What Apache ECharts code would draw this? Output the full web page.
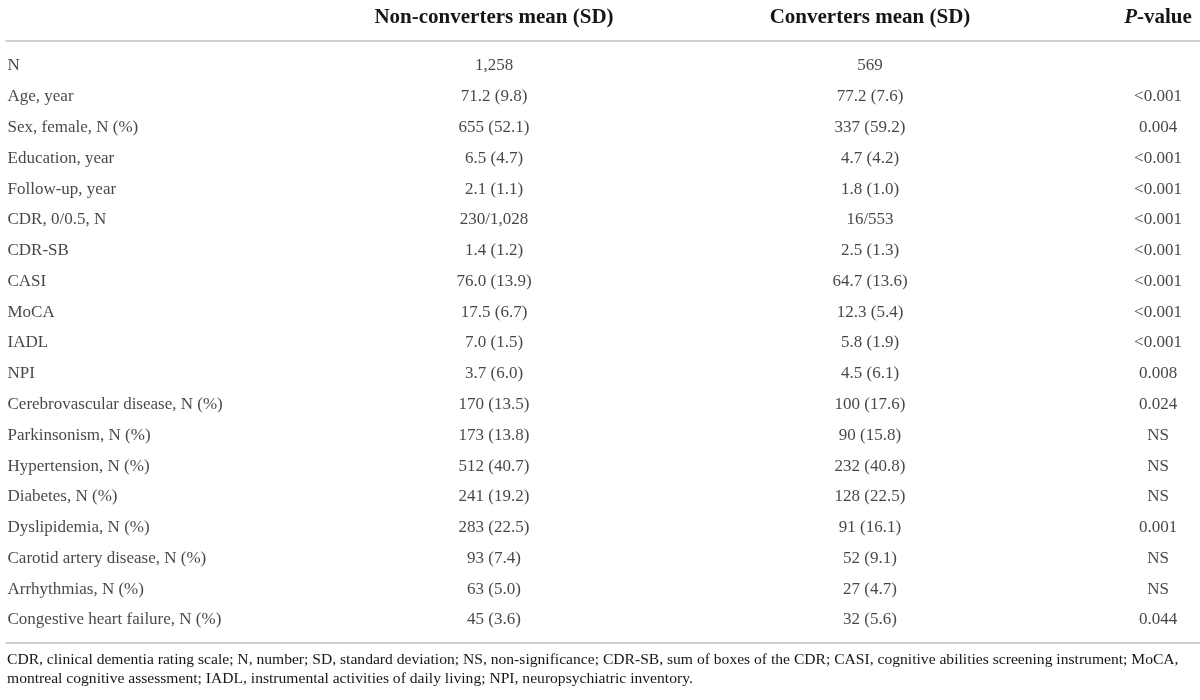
<!DOCTYPE html>
<html style="height: 100%">
<head>
  <meta charset="utf-8">
</head>
<body style="height: 100%; margin: 0; background: #fff">
  <div id="container" style="width: 1200px; height: 700px"></div>
  <script type="text/javascript" src="https://cdn.jsdelivr.net/npm/echarts@6/dist/echarts.min.js"></script>
  <script type="text/javascript">
    var headers = ['', 'Non-converters mean (SD)', 'Converters mean (SD)', 'P-value'];
    var rowLabels = ['N', 'Age, year', 'Sex, female, N (%)', 'Education, year', 'Follow-up, year',
      'CDR, 0/0.5, N', 'CDR-SB', 'CASI', 'MoCA', 'IADL', 'NPI',
      'Cerebrovascular disease, N (%)', 'Parkinsonism, N (%)', 'Hypertension, N (%)',
      'Diabetes, N (%)', 'Dyslipidemia, N (%)', 'Carotid artery disease, N (%)',
      'Arrhythmias, N (%)', 'Congestive heart failure, N (%)'];
    var nonConverters = ['1,258', '71.2 (9.8)', '655 (52.1)', '6.5 (4.7)', '2.1 (1.1)',
      '230/1,028', '1.4 (1.2)', '76.0 (13.9)', '17.5 (6.7)', '7.0 (1.5)', '3.7 (6.0)',
      '170 (13.5)', '173 (13.8)', '512 (40.7)', '241 (19.2)', '283 (22.5)', '93 (7.4)',
      '63 (5.0)', '45 (3.6)'];
    var converters = ['569', '77.2 (7.6)', '337 (59.2)', '4.7 (4.2)', '1.8 (1.0)',
      '16/553', '2.5 (1.3)', '64.7 (13.6)', '12.3 (5.4)', '5.8 (1.9)', '4.5 (6.1)',
      '100 (17.6)', '90 (15.8)', '232 (40.8)', '128 (22.5)', '91 (16.1)', '52 (9.1)',
      '27 (4.7)', '32 (5.6)'];
    var pValues = ['', '<0.001', '0.004', '<0.001', '<0.001', '<0.001', '<0.001', '<0.001',
      '<0.001', '<0.001', '0.008', '0.024', 'NS', 'NS', 'NS', '0.001', 'NS', 'NS', '0.044'];
    var footnote = 'CDR, clinical dementia rating scale; N, number; SD, standard deviation; NS, non-significance; CDR-SB, sum of boxes of the CDR; CASI, cognitive abilities screening instrument; MoCA,\n' +
      'montreal cognitive assessment; IADL, instrumental activities of daily living; NPI, neuropsychiatric inventory.';

    // layout: x position of each column (label column is left aligned, others centred)
    var colX = [7, 494, 870, 1158];
    var FONT = '"Liberation Serif", "DejaVu Serif", serif';
    var INK = '#161616';
    var RULE = '#d2d2d2';

    var dom = document.getElementById('container');
    var myChart = echarts.init(dom);

    function column(values, c) {
      return values.map(function (t, i) { return [colX[c], i, t]; });
    }

    function textSeries(values, c) {
      return {
        type: 'scatter',
        xAxisIndex: 0,
        silent: true,
        symbolSize: 1,
        itemStyle: { color: 'rgba(0,0,0,0)' },
        data: column(values, c),
        label: {
          show: true,
          position: c === 0 ? 'right' : 'inside',
          distance: 0,
          formatter: function (p) { return p.value[2]; },
          fontFamily: FONT,
          fontSize: 17,
          color: INK
        }
      };
    }

    var axisBase = {
      type: 'value',
      min: 6,
      max: 1200,
      splitLine: { show: false },
      axisTick: { show: false },
      axisLine: { show: true, onZero: false, lineStyle: { color: RULE, width: 2 } }
    };

    var option = {
      animation: false,
      backgroundColor: '#fff',
      title: {
        text: footnote,
        left: 7,
        top: 650,
        padding: 0,
        textStyle: { fontFamily: FONT, fontSize: 15.6, fontWeight: 'normal', color: INK, lineHeight: 19 }
      },
      grid: { left: 6, right: 0, top: 41, bottom: 57 },
      xAxis: [
        Object.assign({}, axisBase, {
          position: 'top',
          axisLabel: {
            show: true,
            customValues: colX.slice(1),
            margin: 13,
            fontFamily: FONT,
            fontSize: 21,
            fontWeight: 'bold',
            color: INK,
            formatter: function (v) {
              var i = colX.indexOf(v);
              if (i === 3) return '{i|P}-value';
              return headers[i] || '';
            },
            rich: {
              i: { fontFamily: FONT, fontSize: 21, fontWeight: 'bold', fontStyle: 'italic', color: INK }
            }
          }
        }),
        Object.assign({}, axisBase, {
          position: 'bottom',
          axisLabel: { show: false }
        })
      ],
      yAxis: {
        type: 'value',
        inverse: true,
        min: -0.81,
        max: 18.75,
        show: false
      },
      series: [
        textSeries(rowLabels, 0),
        textSeries(nonConverters, 1),
        textSeries(converters, 2),
        textSeries(pValues, 3)
      ]
    };

    myChart.setOption(option);
  </script>
</body>
</html>
